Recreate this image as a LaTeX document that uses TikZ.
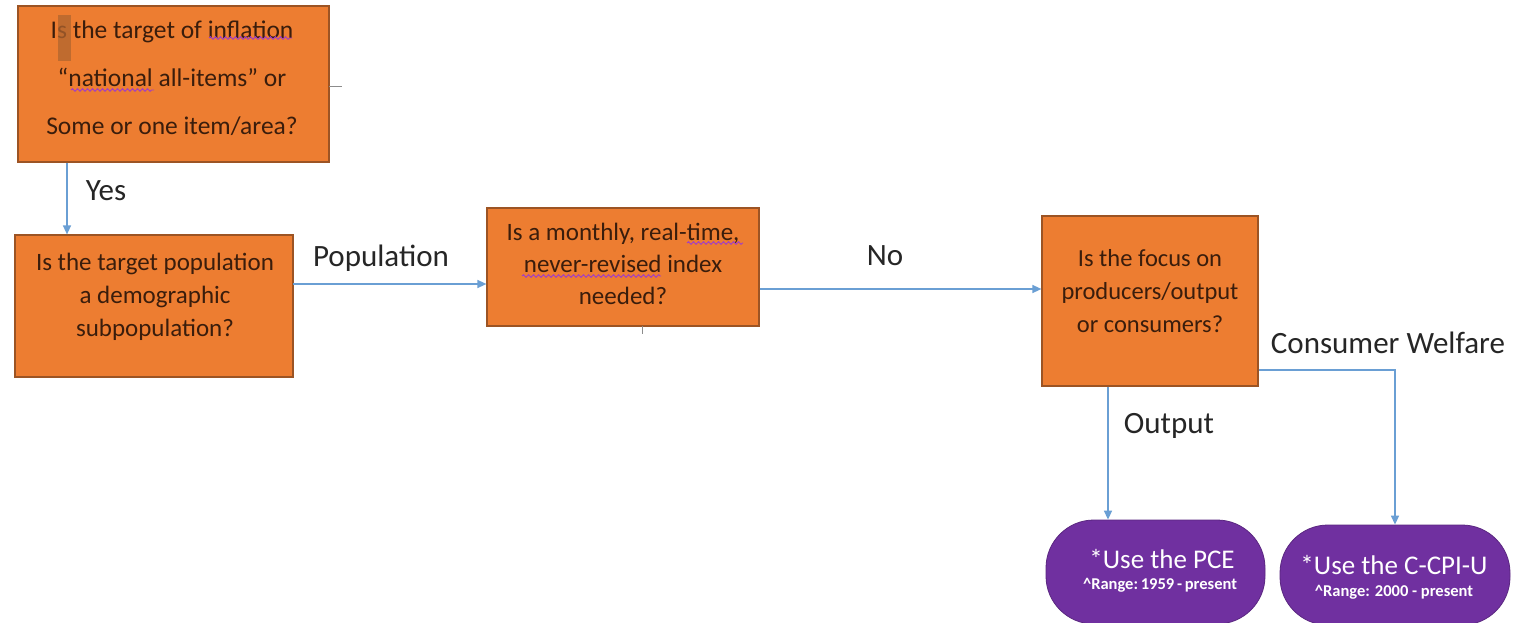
\documentclass[tikz,border=0pt]{standalone}
\usepackage{fontspec}
\setmainfont{Carlito}
\usetikzlibrary{arrows.meta,decorations.pathmorphing}
\definecolor{boxfill}{HTML}{ED7D31}
\definecolor{boxedge}{HTML}{9C5424}
\definecolor{boxtext}{HTML}{3A1D0C}
\definecolor{pillfill}{HTML}{7030A0}
\definecolor{linkblue}{HTML}{6A9FD4}
\definecolor{waveclr}{HTML}{A03CC8}
\definecolor{markclr}{HTML}{B0652F}
\tikzset{
  x=1pt,y=-1pt,
  qbox/.style={draw=boxedge,line width=1.2pt,fill=boxfill,rectangle,inner sep=0pt},
  qtext/.style={text=boxtext,align=center,inner sep=0pt},
  pill/.style={fill=pillfill,draw=pillfill!80!black,line width=0.8pt,rounded corners=48pt,inner sep=0pt},
  ptext/.style={text=white,align=center,inner sep=0pt,font=\fontsize{27}{30}\selectfont},
  rtext/.style={text=white,align=center,inner sep=0pt,font=\fontsize{16.5}{18}\selectfont\bfseries},
  link/.style={draw=linkblue,line width=1.4pt,-{Triangle[length=9pt,width=8pt]}},
  lab/.style={text=black!85,inner sep=0pt,font=\fontsize{31}{36}\selectfont},
  wave/.style={draw=waveclr,line width=0.9pt,decorate,decoration={snake,amplitude=1.3pt,segment length=5pt}},
  stub/.style={draw=black!45,line width=0.8pt}
}
\begin{document}
\begin{tikzpicture}
\useasboundingbox (0,0) rectangle (1535,623);
\fill[white] (0,0) rectangle (1535,623);

% boxes
\node[qbox,minimum width=311pt,minimum height=156pt] (b1) at (173.5,84) {};
\node[qbox,minimum width=278pt,minimum height=142pt] (b2) at (154,306) {};
\node[qbox,minimum width=272pt,minimum height=118pt] (b3) at (623,267) {};
\node[qbox,minimum width=216pt,minimum height=170pt] (b4) at (1150,301) {};

% box texts
\node[qtext,font=\fontsize{25.5}{48}\selectfont] (t1) at (172,78) {Is the target of inflation\\``national all-items'' or\\Some or one item/area?};
\node[qtext,font=\fontsize{25}{33}\selectfont] (t2) at (155,297) {Is the target population\\a demographic\\subpopulation?};
\node[qtext,font=\fontsize{25}{32}\selectfont] (t3) at (623,264) {Is a monthly, real-time,\\never-revised index\\needed?};
\node[qtext,font=\fontsize{24.5}{33}\selectfont] (t4) at (1150,291) {Is the focus on\\producers/output\\or consumers?};

% artefacts
\fill[markclr,opacity=0.75] (58,15) rectangle (71,61);
\coordinate (s1a) at (329,86); \coordinate (s1b) at (342,86);
\draw[stub] (s1a) -- (s1b);
\coordinate (s2a) at (642,326); \coordinate (s2b) at (642,334);
\draw[stub] (s2a) -- (s2b);

% wavy underlines
\draw[wave] (209,38) -- (292,38);
\draw[wave] (71,90) -- (154,90);
\draw[wave] (687,243) -- (743,243);
\draw[wave] (522,276) -- (661,276);

% pills
\node[pill,minimum width=219pt,minimum height=104pt] (p1) at (1155.5,572) {};
\node[pill,minimum width=230pt,minimum height=100pt] (p2) at (1395,575) {};
\node[ptext] (pt1) at (1162,559) {*Use the PCE};
\node[rtext] (pr1) at (1160,585) {\^{}Range:\,1959\,-\,present};
\node[ptext] (pt2) at (1394,565) {*Use the C-CPI-U};
\node[rtext] (pr2) at (1394,592) {\^{}Range: 2000 - present};

% connectors
\draw[link] (b1.south -| 67,0) -- (b2.north -| 67,0);
\draw[link] (293,284) -- (b3.west |- 0,284);
\draw[link] (b3.east |- 0,289) -- (b4.west |- 0,289);
\draw[link] (b4.south -| 1108,0) -- (p1.north -| 1108,0);
\coordinate (cw) at (1395,370);
\draw[link] (b4.east |- cw) -- (cw) -- (p2.north);

% labels
\node[lab] (lyes) at (106,191) {Yes};
\node[lab] (lpop) at (381,258) {Population};
\node[lab] (lno) at (885,256) {No};
\node[lab] (lout) at (1169,426) {Output};
\node[lab] (lcw) at (1388,343) {Consumer Welfare};
\end{tikzpicture}
\end{document}
